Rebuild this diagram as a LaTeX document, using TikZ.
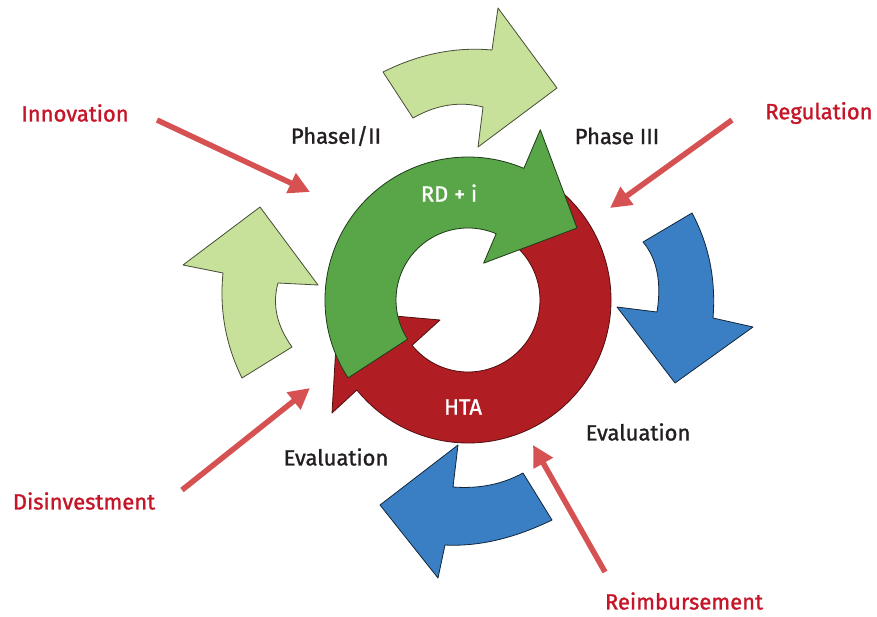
\documentclass[tikz,border=0pt]{standalone}
\usepackage{fontspec}
\setmainfont{Fira Sans}[FakeBold=1.2]
\usetikzlibrary{arrows.meta}
\definecolor{ringgreen}{RGB}{88,166,72}
\definecolor{ringred}{RGB}{176,30,35}
\definecolor{lgreen}{RGB}{199,224,154}
\definecolor{cblue}{RGB}{58,127,195}
\definecolor{arrowred}{RGB}{214,82,82}
\definecolor{lblred}{RGB}{198,20,40}
\definecolor{txtblack}{RGB}{35,31,32}
\begin{document}
\begin{tikzpicture}[x=1pt,y=-1pt,
  lbl/.style={font=\fontsize{22}{26}\selectfont, text=txtblack, inner sep=0pt},
  redlbl/.style={lbl, text=lblred},
  whitelbl/.style={lbl, text=white},
  inarrow/.style={draw=arrowred, line width=5.5pt, -{Triangle[length=21pt,width=21pt]}},
  outl/.style={line width=0.8pt, line join=round},
  lgshape/.style={outl, fill=lgreen, draw=lgreen!35!black},
  blshape/.style={outl, fill=cblue, draw=cblue!30!black},
  grring/.style={outl, fill=ringgreen, draw=ringgreen!35!black},
  rdring/.style={outl, fill=ringred, draw=ringred!45!black}]
\useasboundingbox (0,0) rectangle (877,616);
\fill[white] (0,0) rectangle (877,616);

% outer curved arrows
\filldraw[lgshape] (383,72) .. controls (419,54) and (455.3,46.7) .. (492,50) -- (498,8) -- (557,88) -- (478,147) -- (483,107) .. controls (459.7,101) and (436.3,104.7) .. (413,118) -- cycle;
\filldraw[lgshape] (242,378) .. controls (225.7,345) and (219.3,310) .. (223,273) -- (183,265) -- (260,207) -- (318,285) -- (278,283) .. controls (272,304.3) and (276.7,325.7) .. (292,347) -- cycle;
\filldraw[blshape] (643,242) -- (692,213) .. controls (709,244.7) and (716,279.7) .. (713,318) -- (753,327) -- (675,383) -- (617,307) -- (657,312) .. controls (661.7,282) and (657,258.7) .. cycle;
\filldraw[blshape] (523,473) -- (552,520) .. controls (514.3,538.3) and (478.7,546.7) .. (445,545) -- (438,578) -- (380,505) -- (458,445) -- (453,487) .. controls (479,489) and (502.3,484.3) .. cycle;

% central ring
\begin{scope}[shift={(468,300)}, y=1pt]
\filldraw[rdring] (55:72) -- (55:143) arc[start angle=55, end angle=-141, radius=143] -- (-136,-113) -- (-130,-11) -- (-28,-20) -- (-141:72) arc[start angle=-141, end angle=55, radius=72] -- cycle;
\filldraw[grring] (213:72) -- (213:143) arc[start angle=213, end angle=67, radius=143] -- (67:185) -- (109,72) -- (67:40) -- (67:72) arc[start angle=67, end angle=213, radius=72] -- cycle;
\end{scope}

% labels
\node[redlbl] (innov) at (75,113) {Innovation};
\node[redlbl] (regul) at (819,113) {Regulation};
\node[redlbl] (disinv) at (84,501) {Disinvestment};
\node[redlbl] (reimb) at (684,601) {Reimbursement};
\node[lbl] (ph12) at (336,136) {PhaseI/II};
\node[lbl] (ph3) at (617,136) {Phase III};
\node[lbl] (evall) at (336,457) {Evaluation};
\node[lbl] (evalr) at (638,432) {Evaluation};
\node[whitelbl] (rdi) at (449,193) {RD + i};
\node[whitelbl] (hta) at (463,407) {HTA};

% red influence arrows
\coordinate (innovS) at (157,120); \coordinate (innovE) at (310,192);
\coordinate (regulS) at (732,120); \coordinate (regulE) at (610,208);
\coordinate (disinvS) at (182,490); \coordinate (disinvE) at (310,388);
\coordinate (reimbS) at (605,572); \coordinate (reimbE) at (533,445);
\draw[inarrow] (innovS) -- (innovE);
\draw[inarrow] (regulS) -- (regulE);
\draw[inarrow] (disinvS) -- (disinvE);
\draw[inarrow] (reimbS) -- (reimbE);
\end{tikzpicture}
\end{document}
